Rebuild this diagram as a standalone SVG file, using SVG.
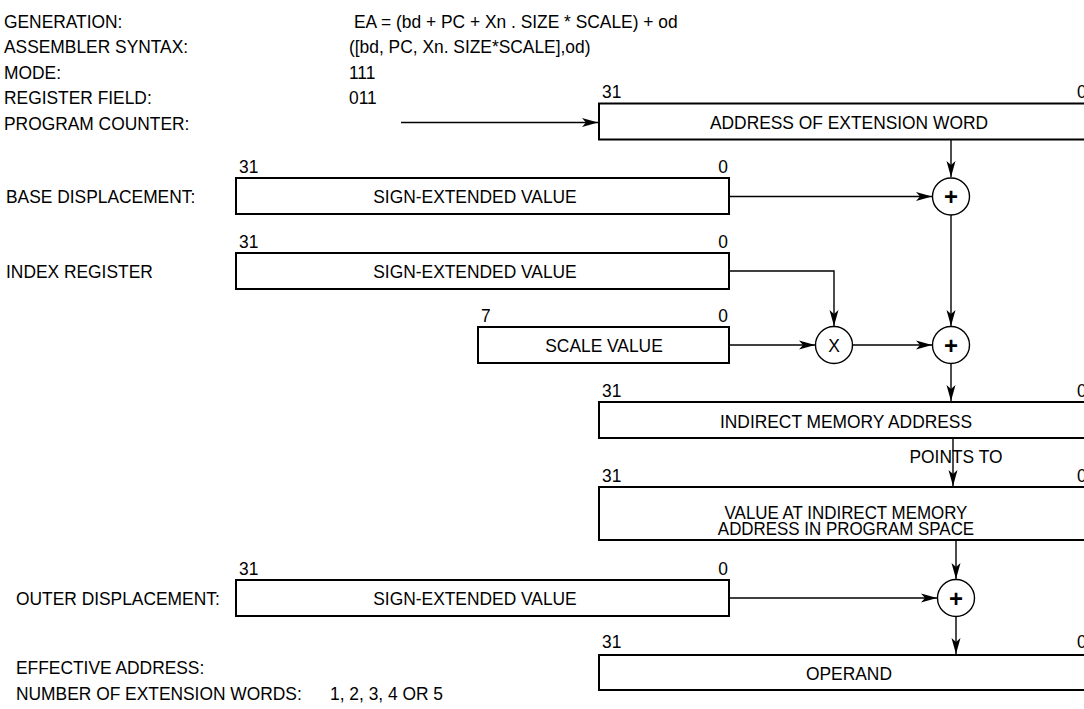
<svg xmlns="http://www.w3.org/2000/svg" width="1084" height="709" viewBox="0 0 1084 709">
<defs>
<marker id="ah" markerUnits="userSpaceOnUse" viewBox="-17 -5 18 10" refX="0" refY="0" markerWidth="18" markerHeight="10" orient="auto">
<path d="M-16,-4.5 L0,0 L-16,4.5 L-12,0 Z" fill="#000"/>
</marker>
</defs>
<style>
text{font-family:"Liberation Sans",Arial,sans-serif;font-size:19px;fill:#000;}
.l{transform-box:fill-box;transform-origin:left center;transform:scaleX(0.915);}
.m{text-anchor:middle;transform-box:fill-box;transform-origin:center;transform:scaleX(0.915);}
.r{text-anchor:end;transform-box:fill-box;transform-origin:right center;transform:scaleX(0.915);}
.sm{font-size:18.5px;}
.box{fill:#fff;stroke:#000;stroke-width:2;}
.op{fill:#fff;stroke:#000;stroke-width:1.4;}
.cn{fill:none;stroke:#000;stroke-width:1.4;}
.plus{font-weight:bold;font-size:24px;text-anchor:middle;}
</style>
<rect width="1084" height="709" fill="#fff"/>
<g id="header">
<text class="l" x="4" y="28">GENERATION:</text>
<text class="l" x="354" y="28">EA = (bd + PC + Xn . SIZE * SCALE) + od</text>
<text class="l" x="4" y="53">ASSEMBLER SYNTAX:</text>
<text class="l" x="349" y="53">([bd, PC, Xn. SIZE*SCALE],od)</text>
<text class="l" x="4" y="79">MODE:</text>
<text class="l" x="349" y="79">111</text>
<text class="l" x="4" y="104">REGISTER FIELD:</text>
<text class="l" x="349" y="104">011</text>
<text class="l" x="4" y="130">PROGRAM COUNTER:</text>
</g>
<g id="connectors">
<line class="cn" x1="401" y1="122.5" x2="598" y2="122.5" marker-end="url(#ah)"/>
<line class="cn" x1="951" y1="140" x2="951" y2="177" marker-end="url(#ah)"/>
<line class="cn" x1="729" y1="196.5" x2="932" y2="196.5" marker-end="url(#ah)"/>
<line class="cn" x1="951" y1="215" x2="951" y2="326" marker-end="url(#ah)"/>
<polyline class="cn" points="729,271 834,271 834,326" marker-end="url(#ah)"/>
<line class="cn" x1="729" y1="345" x2="815" y2="345" marker-end="url(#ah)"/>
<line class="cn" x1="852" y1="345" x2="932" y2="345" marker-end="url(#ah)"/>
<line class="cn" x1="951" y1="363.5" x2="951" y2="401" marker-end="url(#ah)"/>
<line class="cn" x1="953" y1="438" x2="953" y2="486" marker-end="url(#ah)"/>
<line class="cn" x1="956" y1="540" x2="956" y2="579" marker-end="url(#ah)"/>
<line class="cn" x1="729" y1="598" x2="937" y2="598" marker-end="url(#ah)"/>
<line class="cn" x1="956" y1="616.5" x2="956" y2="654" marker-end="url(#ah)"/>
</g>
<g id="pc-box">
<rect class="box" x="599" y="103.5" width="495" height="36"/>
<text class="l" x="602" y="98">31</text>
<text class="l" x="1077" y="98">0</text>
<text class="m" x="849" y="129">ADDRESS OF EXTENSION WORD</text>
</g>
<g id="base-disp">
<text class="l" x="6" y="203">BASE DISPLACEMENT:</text>
<rect class="box" x="236" y="178" width="493" height="36"/>
<text class="l" x="239" y="173">31</text>
<text class="r" x="728" y="173">0</text>
<text class="m" x="475" y="203">SIGN-EXTENDED VALUE</text>
</g>
<g id="add1">
<circle class="op" cx="951" cy="196.5" r="18.5"/>
<text class="plus" x="951" y="205">+</text>
</g>
<g id="index-reg">
<text class="l" x="6" y="278">INDEX REGISTER</text>
<rect class="box" x="236" y="253" width="493" height="36"/>
<text class="l" x="239" y="248">31</text>
<text class="r" x="728" y="248">0</text>
<text class="m" x="475" y="278">SIGN-EXTENDED VALUE</text>
</g>
<g id="scale">
<rect class="box" x="478" y="327" width="251" height="36"/>
<text class="l" x="481" y="322">7</text>
<text class="r" x="728" y="322">0</text>
<text class="m" x="604" y="352">SCALE VALUE</text>
</g>
<g id="mul">
<circle class="op" cx="834" cy="345" r="18.5"/>
<text class="m" x="834" y="352">X</text>
</g>
<g id="add2">
<circle class="op" cx="951" cy="345" r="18.5"/>
<text class="plus" x="951" y="353.5">+</text>
</g>
<g id="indirect">
<rect class="box" x="599" y="402" width="495" height="36"/>
<text class="l" x="602" y="397">31</text>
<text class="l" x="1077" y="397">0</text>
<text class="m" x="846" y="428">INDIRECT MEMORY ADDRESS</text>
<text class="m" x="956" y="463">POINTS TO</text>
</g>
<g id="value">
<rect class="box" x="599" y="487" width="495" height="53"/>
<text class="l" x="602" y="482">31</text>
<text class="l" x="1077" y="482">0</text>
<text class="m sm" x="846" y="519">VALUE AT INDIRECT MEMORY</text>
<text class="m sm" x="846" y="535.5">ADDRESS IN PROGRAM SPACE</text>
</g>
<g id="outer-disp">
<text class="l" x="16" y="605">OUTER DISPLACEMENT:</text>
<rect class="box" x="236" y="580" width="493" height="36"/>
<text class="l" x="239" y="575">31</text>
<text class="r" x="728" y="575">0</text>
<text class="m" x="475" y="605">SIGN-EXTENDED VALUE</text>
</g>
<g id="add3">
<circle class="op" cx="956" cy="598" r="18.5"/>
<text class="plus" x="956" y="606.5">+</text>
</g>
<g id="operand">
<rect class="box" x="599" y="655" width="495" height="35"/>
<text class="l" x="602" y="648">31</text>
<text class="l" x="1077" y="648">0</text>
<text class="m" x="849" y="680">OPERAND</text>
</g>
<g id="footer">
<text class="l" x="16" y="674">EFFECTIVE ADDRESS:</text>
<text class="l" x="16" y="700">NUMBER OF EXTENSION WORDS:</text>
<text class="l" x="330" y="700">1, 2, 3, 4 OR 5</text>
</g>
</svg>
